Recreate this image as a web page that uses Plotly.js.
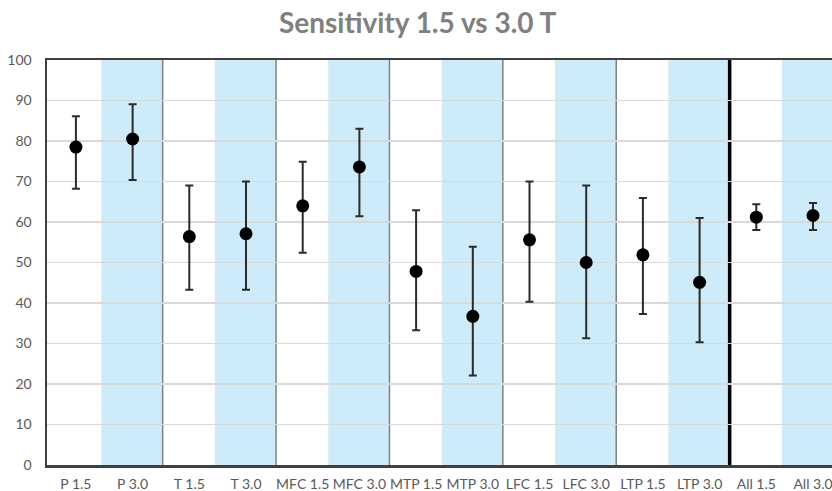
<!DOCTYPE html>
<html>
<head>
<meta charset="utf-8">
<script src="https://cdn.plot.ly/plotly-3.0.1.min.js"></script>
<style>html,body{margin:0;padding:0;background:#fff;}#chart{width:832px;height:491px;}</style>
</head>
<body>
<div id="chart"></div>
<script>
const categories = ["P 1.5","P 3.0","T 1.5","T 3.0","MFC 1.5","MFC 3.0","MTP 1.5","MTP 3.0","LFC 1.5","LFC 3.0","LTP 1.5","LTP 3.0","All 1.5","All 3.0"];
const sensitivity = [78.5, 80.5, 56.4, 57.1, 64.0, 73.6, 47.8, 36.7, 55.6, 50.0, 51.9, 45.1, 61.2, 61.6];
const upperCI    = [86.1, 89.1, 69.0, 70.0, 74.9, 83.0, 62.9, 53.9, 70.0, 69.0, 65.9, 61.0, 64.4, 64.7];
const lowerCI    = [68.2, 70.4, 43.3, 43.3, 52.4, 61.4, 33.3, 22.1, 40.3, 31.3, 37.3, 30.3, 58.0, 58.0];
const yTicks = [0,10,20,30,40,50,60,70,80,90,100];

const idx = categories.map((c,i)=>i);
const plus = sensitivity.map((v,i)=>upperCI[i]-v);
const minus = sensitivity.map((v,i)=>v-lowerCI[i]);

const shapes = [];
// blue bands behind the 3.0 T categories
idx.filter(i=>i%2===1).forEach(i=>{
  shapes.push({type:'rect', xref:'x', yref:'paper', x0:i-0.55, x1:i+0.53, y0:0, y1:1,
    fillcolor:'#cdebf8', line:{width:0}, layer:'below'});
});
// separators between region pairs
idx.filter(i=>i%2===1 && i<categories.length-1).forEach(i=>{
  const last = (i===11);
  shapes.push({type:'line', xref:'x', yref:'paper', x0:i+0.53, x1:i+0.53, y0:0, y1:1,
    line:{color: last ? '#000000' : '#808080', width: last ? 3.5 : 1.5}, layer:'between'});
});

const trace = {
  type:'scatter', mode:'markers', x: idx, y: sensitivity,
  marker:{color:'#000000', size:13},
  error_y:{type:'data', symmetric:false, array: plus, arrayminus: minus,
    color:'#2b2b2b', thickness:2, width:4},
  hoverinfo:'x+y', showlegend:false
};

const layout = {
  width:832, height:491,
  margin:{l:47, r:0, t:60, b:26, pad:0},
  paper_bgcolor:'#ffffff', plot_bgcolor:'#ffffff',
  font:{family:'Lato, "Open Sans", sans-serif', size:14, color:'#595959'},
  title:{text:'<b>Sensitivity 1.5 vs 3.0 T</b>', x:0.502, xanchor:'center', y:0.952, yanchor:'middle',
    font:{family:'Lato, "Open Sans", sans-serif', size:28, color:'#808080'}},
  xaxis:{range:[-0.51, 13.335], tickvals: idx, ticktext: categories, showgrid:false, zeroline:false,
    showline:true, linecolor:'#404040', linewidth:2.5, mirror:true, ticks:'', ticklabelstandoff:5,
    ticklabeloverflow:'allow',
    tickfont:{size:14, color:'#595959'}, fixedrange:true},
  yaxis:{range:[0,100], tickvals: yTicks, showgrid:true, gridcolor:'#d9d9d9', gridwidth:1.5,
    zeroline:false, showline:true, linecolor:'#404040', linewidth:2.5, ticks:'', ticklabelstandoff:10,
    tickfont:{size:14, color:'#595959'}, fixedrange:true},
  shapes: shapes
};

Plotly.newPlot('chart', [trace], layout, {displayModeBar:false, staticPlot:true});
</script>
</body>
</html>
